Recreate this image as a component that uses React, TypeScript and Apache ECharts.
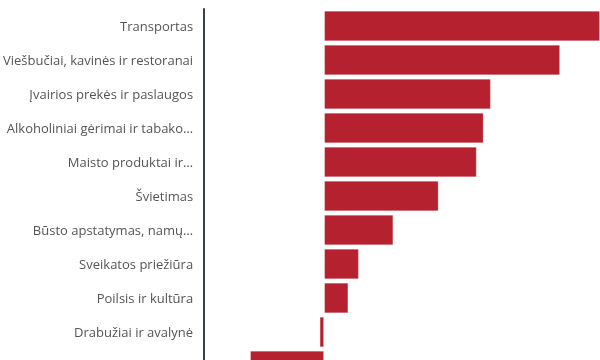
import React, { useEffect, useRef } from "react";
import * as echarts from "echarts";

const categories = [
  "Transportas",
  "Viešbučiai, kavinės ir restoranai",
  "Įvairios prekės ir paslaugos",
  "Alkoholiniai gėrimai ir tabako…",
  "Maisto produktai ir…",
  "Švietimas",
  "Būsto apstatymas, namų…",
  "Sveikatos priežiūra",
  "Poilsis ir kultūra",
  "Drabužiai ir avalynė",
  "Ryšiai",
];

const values = [9.2, 7.87, 5.56, 5.32, 5.09, 3.82, 2.31, 1.16, 0.81, -0.15, -2.47];

const xMin = -4;
const xMax = 9.2;

export default function App() {
  const ref = useRef<HTMLDivElement>(null);
  useEffect(() => {
    if (!ref.current) return;
    const chart = echarts.init(ref.current, undefined, { renderer: "svg" });
    chart.setOption({
      animation: false,
      grid: { left: 204, right: 0, top: 9, height: 34 * categories.length },
      xAxis: {
        type: "value",
        min: xMin,
        max: xMax,
        show: false,
        splitLine: { show: false },
      },
      yAxis: {
        type: "category",
        data: categories,
        inverse: true,
        axisLine: {
          show: true,
          onZero: false,
          lineStyle: { color: "#37424a", width: 2 },
        },
        axisTick: { show: false },
        axisLabel: {
          color: "#555",
          fontFamily: "Open Sans",
          fontSize: 13,
          margin: 11,
          interval: (i: number) => i < 10,
        },
      },
      series: [
        {
          type: "bar",
          data: values,
          barCategoryGap: "10%",
          itemStyle: {
            color: "#b5212e",
            borderColor: "rgba(255,255,255,0.25)",
            borderWidth: 1,
          },
        },
      ],
    });
    return () => chart.dispose();
  }, []);
  return (
    <div
      ref={ref}
      style={{ position: "fixed", left: 0, top: 0, width: 600, height: 420 }}
    />
  );
}
